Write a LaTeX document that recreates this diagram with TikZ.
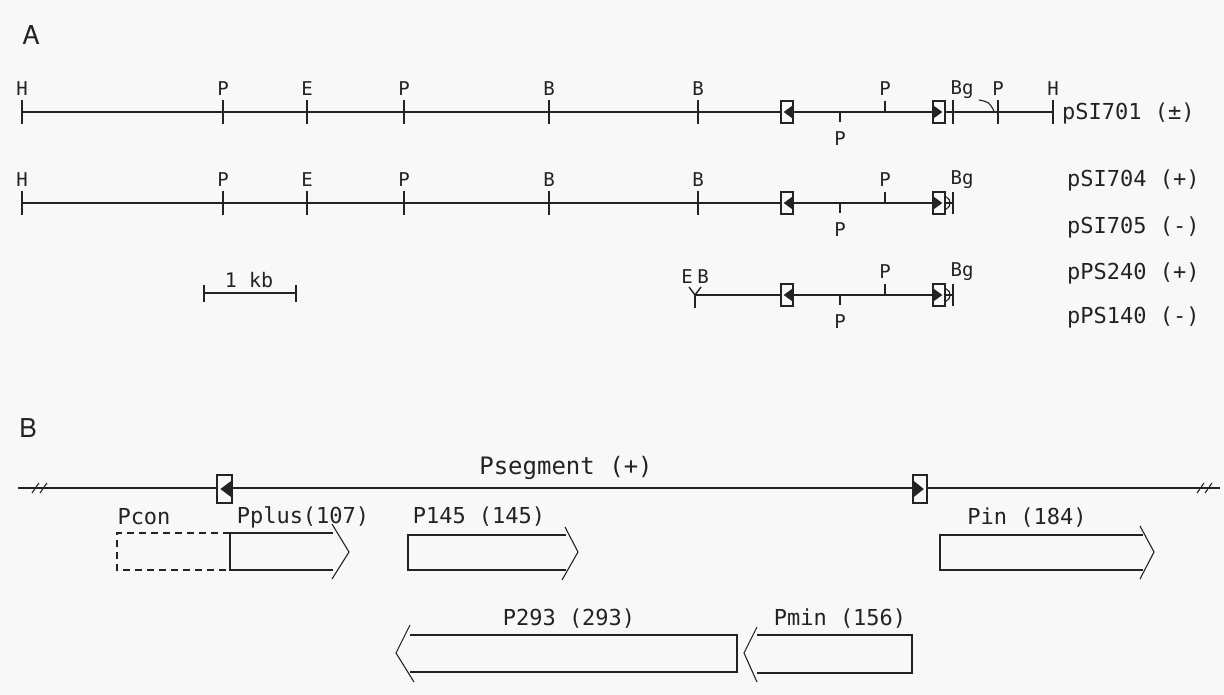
\documentclass[tikz,border=0pt]{standalone}
\usepackage{fontspec}
\setmainfont{DejaVu Sans Mono}
\newfontfamily\panelfont{TeX Gyre Heros}
\definecolor{ink}{RGB}{35,35,35}
\definecolor{paper}{RGB}{248,248,248}

% restriction sites and repeat markers on a map line
\newcommand\fullsite[3]{%
  \draw[tick] (#1,{#2-12}) -- (#1,{#2+12});
  \node[site] (s-#3-#1-#2) at (#1,{#2-23}) {#3};}
\newcommand\upsite[2]{%
  \draw[tick] (#1,{#2-11}) -- (#1,#2);
  \node[site] (u-#1-#2) at (#1,{#2-23}) {P};}
\newcommand\downsite[2]{%
  \draw[tick] (#1,#2) -- (#1,{#2+10});
  \node[site] (d-#1-#2) at (#1,{#2+27}) {P};}
% x, y, half width, half height
\newcommand\repL[4]{%
  \draw[dna,fill=paper] ({#1-#3},{#2-#4}) rectangle ({#1+#3},{#2+#4});
  \fill[ink] ({#1+#3},{#2-0.62*#4}) -- ({#1-0.55*#3},#2) -- ({#1+#3},{#2+0.62*#4}) -- cycle;}
\newcommand\repR[4]{%
  \draw[dna,fill=paper] ({#1-#3},{#2-#4}) rectangle ({#1+#3},{#2+#4});
  \fill[ink] ({#1-#3},{#2-0.62*#4}) -- ({#1+0.55*#3},#2) -- ({#1-#3},{#2+0.62*#4}) -- cycle;}
\newcommand\bgend[1]{%
  \draw[tick] (953,{#1-11}) -- (953,{#1+11});
  \draw[dna] (945,{#1-7}) .. controls (950,{#1-3}) .. (950,#1) .. controls (950,{#1+3}) .. (945,{#1+7});}
\newcommand\breakmarks[2]{%
  \draw[dna] ({#1-8},{#2+5}) -- ({#1-1},{#2-5});
  \draw[dna] ({#1},{#2+5}) -- ({#1+7},{#2-5});}

\begin{document}
\begin{tikzpicture}[x=1pt,y=-1pt,
  dna/.style={line width=1.1pt,draw=ink},
  tick/.style={line width=1.4pt,draw=ink},
  site/.style={font=\fontsize{19}{19}\selectfont,text=ink,inner sep=0pt},
  plabel/.style={font=\fontsize{22}{22}\selectfont,text=ink,inner sep=0pt,anchor=west},
  glabel/.style={font=\fontsize{22}{22}\selectfont,text=ink,inner sep=0pt},
  panel/.style={font=\panelfont\fontsize{26}{26}\selectfont,text=ink,inner sep=0pt},
  orf/.style={line width=1.1pt,draw=ink,line join=miter}]
\useasboundingbox[fill=paper] (0,0) rectangle (1224,695);

\node[panel] (labA) at (31,35) {A};
\node[panel] (labB) at (28,428) {B};

% ---- pSI701 ----
\draw[dna] (22,112) -- (1053,112);
\fullsite{22}{112}{H}
\fullsite{223}{112}{P}
\fullsite{307}{112}{E}
\fullsite{404}{112}{P}
\fullsite{549}{112}{B}
\fullsite{698}{112}{B}
\repL{787}{112}{6}{11}
\downsite{840}{112}
\upsite{885}{112}
\repR{939}{112}{6}{11}
\draw[tick] (953,100) -- (953,124);
\node[site] (bg1) at (962,90) {Bg};
\draw[line width=2.4pt,draw=ink] (953,112) -- (993,112);
\draw[dna] (979,100) .. controls (989,102) .. (994,111);
\fullsite{998}{112}{P}
\fullsite{1053}{112}{H}
\node[plabel] (n701) at (1062,113) {pSI701 (±)};

% ---- pSI704 / pSI705 ----
\draw[dna] (22,203) -- (953,203);
\fullsite{22}{203}{H}
\fullsite{223}{203}{P}
\fullsite{307}{203}{E}
\fullsite{404}{203}{P}
\fullsite{549}{203}{B}
\fullsite{698}{203}{B}
\repL{787}{203}{6}{11}
\downsite{840}{203}
\upsite{885}{203}
\repR{939}{203}{6}{11}
\bgend{203}
\node[site] (bg2) at (962,180) {Bg};
\node[plabel] (n704) at (1067,180) {pSI704 (+)};
\node[plabel] (n705) at (1067,227) {pSI705 (-)};

% ---- pPS240 / pPS140 ----
\draw[dna] (695,295) -- (953,295);
\draw[line width=2.2pt,draw=ink] (695,294) -- (695,308);
\draw[line width=1.4pt,draw=ink] (689,287) -- (695,295) -- (701,287);
\node[site] (e3) at (687,277) {E};
\node[site] (b3) at (703,277) {B};
\repL{787}{295}{6}{11}
\downsite{840}{295}
\upsite{885}{295}
\repR{939}{295}{6}{11}
\bgend{295}
\node[site] (bg3) at (962,272) {Bg};
\node[plabel] (n240) at (1067,273) {pPS240 (+)};
\node[plabel] (n140) at (1067,317) {pPS140 (-)};

% ---- scale bar ----
\coordinate (kb0) at (204,293);
\coordinate (kb1) at (296,293);
\draw[dna] (kb0) -- (kb1);
\draw[tick] (204,285) -- (204,302);
\draw[tick] (296,285) -- (296,302);
\node[font=\fontsize{20}{20}\selectfont,text=ink,inner sep=0pt] (kb) at (249,280) {1 kb};

% ---- panel B: the P segment ----
\coordinate (segL) at (18,488);
\coordinate (segR) at (1220,488);
\draw[dna] (segL) -- (segR);
\breakmarks{40}{488}
\breakmarks{1205}{488}
\repL{224.5}{489}{7.5}{14}
\repR{920}{489}{7}{14}
\node[font=\fontsize{24}{24}\selectfont,text=ink,inner sep=0pt] (pseg) at (566,468) {Psegment (+)};

% open reading frames
\draw[orf,dashed,dash pattern=on 7pt off 5pt] (230,533) -- (117,533) -- (117,570) -- (230,570);
\draw[orf] (333,533) -- (230,533) -- (230,570) -- (333,570);
\draw[orf] (332,524) -- (349,552) -- (332,579);
\node[glabel] (pcon) at (144,517) {Pcon};
\node[glabel] (pplus) at (303,517) {Pplus(107)};

\draw[orf] (566,535) -- (408,535) -- (408,570) -- (566,570);
\draw[orf] (565,527) -- (578,552) -- (562,580);
\node[glabel] (p145) at (479,517) {P145 (145)};

\draw[orf] (1143,535) -- (940,535) -- (940,570) -- (1143,570);
\draw[orf] (1140,526) -- (1154,552) -- (1140,579);
\node[glabel] (pin) at (1027,518) {Pin (184)};

\draw[orf] (410,635) -- (737,635) -- (737,672) -- (410,672);
\draw[orf] (410,625) -- (396,653) -- (414,682);
\node[glabel] (p293) at (569,619) {P293 (293)};

\draw[orf] (757,635) -- (912,635) -- (912,673) -- (757,673);
\draw[orf] (757,627) -- (744,653) -- (757,682);
\node[glabel] (pmin) at (840,619) {Pmin (156)};
\end{tikzpicture}
\end{document}
